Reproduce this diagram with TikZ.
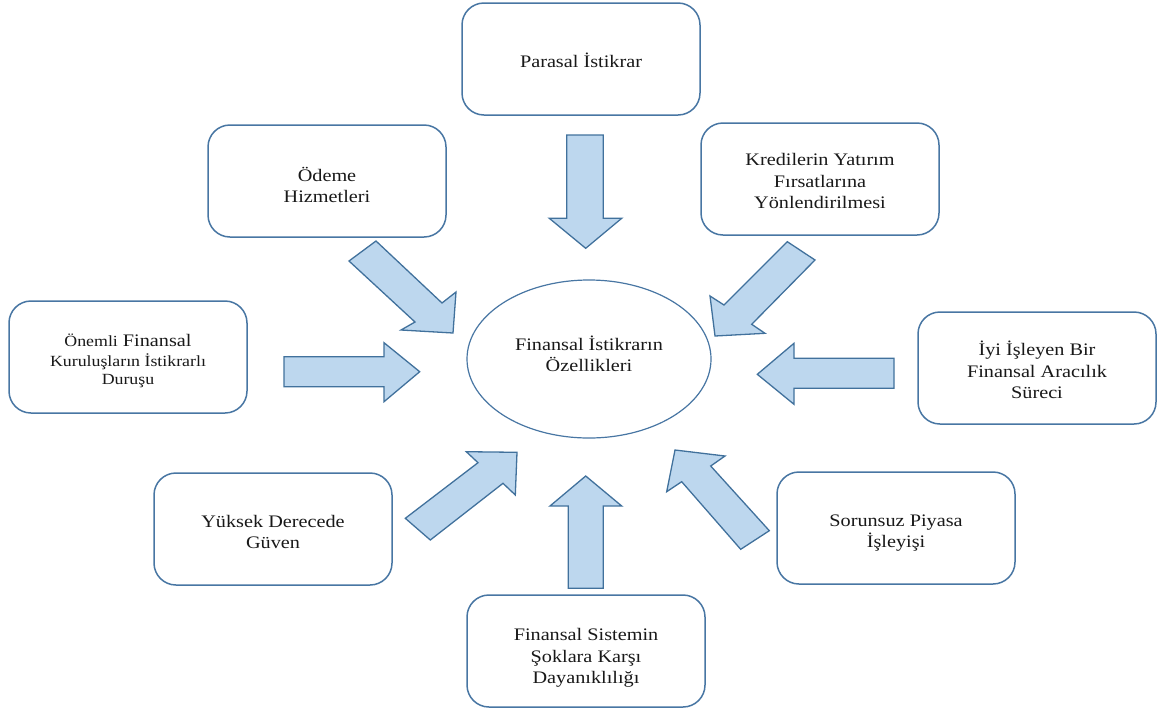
\documentclass[tikz,border=0pt]{standalone}
\usepackage{fontspec}
\setmainfont{Liberation Serif}[FakeStretch=1.15]
\usetikzlibrary{shapes.geometric}
\definecolor{edgeblue}{RGB}{72,118,163}
\definecolor{arrowfill}{RGB}{189,215,238}
\definecolor{arrowedge}{RGB}{65,113,156}
\newcommand{\mainsize}{\fontsize{17.6}{21.5}\selectfont}
\newcommand{\smalltxt}{\fontsize{15.5}{19}\selectfont}
\tikzset{
  topic/.style={draw=edgeblue, line width=1.5pt, rounded corners=22pt, fill=white,
    minimum width=238pt, minimum height=112pt, inner sep=0pt},
  core/.style={draw=edgeblue, line width=1.2pt, ellipse, fill=white,
    minimum width=244pt, minimum height=158pt, inner sep=0pt},
  caption/.style={align=center, inner sep=0pt, font=\mainsize, text=black!90},
  blockarrow/.style={draw=arrowedge, line width=1.3pt, fill=arrowfill, line join=miter}
}
\begin{document}
\begin{tikzpicture}[x=1pt,y=-1pt]
\useasboundingbox (0,0) rectangle (1159,710);

% central idea
\node[core] (center) at (589,359) {};
\node[caption] (center-t) at ([yshift=5pt]center.center) {Finansal İstikrarın\\Özellikleri};

% surrounding characteristics
\node[topic] (parasal)  at (581,59)  {};
\node[topic] (odeme)    at (327,181) {};
\node[topic] (kredi)    at (820,179) {};
\node[topic] (kurulus)  at (128,357) {};
\node[topic] (aracilik) at (1037,368) {};
\node[topic] (guven)    at (273,529) {};
\node[topic] (piyasa)   at (896,528) {};
\node[topic] (soklar)   at (586,651) {};

\node[caption] (parasal-t)  at ([yshift=-1pt]parasal.center)  {Parasal İstikrar};
\node[caption] (odeme-t)    at ([yshift=-4pt]odeme.center)    {Ödeme\\Hizmetleri};
\node[caption] (kredi-t)    at ([yshift=-2pt]kredi.center)    {Kredilerin Yatırım\\Fırsatlarına\\Yönlendirilmesi};
\node[caption] (kurulus-t)  at ([yshift=-4pt]kurulus.center)
  {{\smalltxt Önemli} Finansal\\[-2pt]{\smalltxt Kuruluşların İstikrarlı}\\[-3pt]{\smalltxt Duruşu}};
\node[caption] (aracilik-t) at ([yshift=-2pt]aracilik.center) {İyi İşleyen Bir\\Finansal Aracılık\\Süreci};
\node[caption] (guven-t)    at ([yshift=-3pt]guven.center)    {Yüksek Derecede\\Güven};
\node[caption] (piyasa-t)   at ([yshift=-5pt]piyasa.center)   {Sorunsuz Piyasa\\İşleyişi};
\node[caption] (soklar-t)   at ([yshift=-7pt]soklar.center)   {Finansal Sistemin\\Şoklara Karşı\\Dayanıklılığı};

% block arrows pointing at the centre
\draw[blockarrow] (566.7,135) -- (603.3,135) -- (603.3,218.3) -- (621.7,218.3)
  -- (585.7,248.3) -- (549.3,218.3) -- (566.7,218.3) -- cycle;
\draw[blockarrow] (376,241) -- (442,303) -- (456,292) -- (453,333)
  -- (401,330) -- (415,322) -- (349,261) -- cycle;
\draw[blockarrow] (787.3,241.7) -- (815,260) -- (751.7,324.3) -- (765,333.3)
  -- (715,336) -- (710,296) -- (724,305) -- cycle;
\draw[blockarrow] (284,356.7) -- (384,356.7) -- (384,342.7) -- (419.7,371.7)
  -- (384,401.7) -- (384,386.7) -- (284,386.7) -- cycle;
\draw[blockarrow] (894,358.3) -- (894,388.3) -- (794,388.3) -- (794,404.3)
  -- (757.3,374.3) -- (794,343.3) -- (794,358.3) -- cycle;
\draw[blockarrow] (405.3,518.3) -- (430.3,540) -- (503,483.3) -- (515.3,495)
  -- (517,452.3) -- (466.3,451.7) -- (478,462.7) -- cycle;
\draw[blockarrow] (585.7,476) -- (621.7,506) -- (603.3,506) -- (603.3,588.3)
  -- (568.3,588.3) -- (568.3,506) -- (550,506) -- cycle;
\draw[blockarrow] (675,450) -- (725,456) -- (710.7,466) -- (769.3,530.7)
  -- (740.7,549.3) -- (681.7,481.7) -- (666.7,491.7) -- cycle;
\end{tikzpicture}
\end{document}
